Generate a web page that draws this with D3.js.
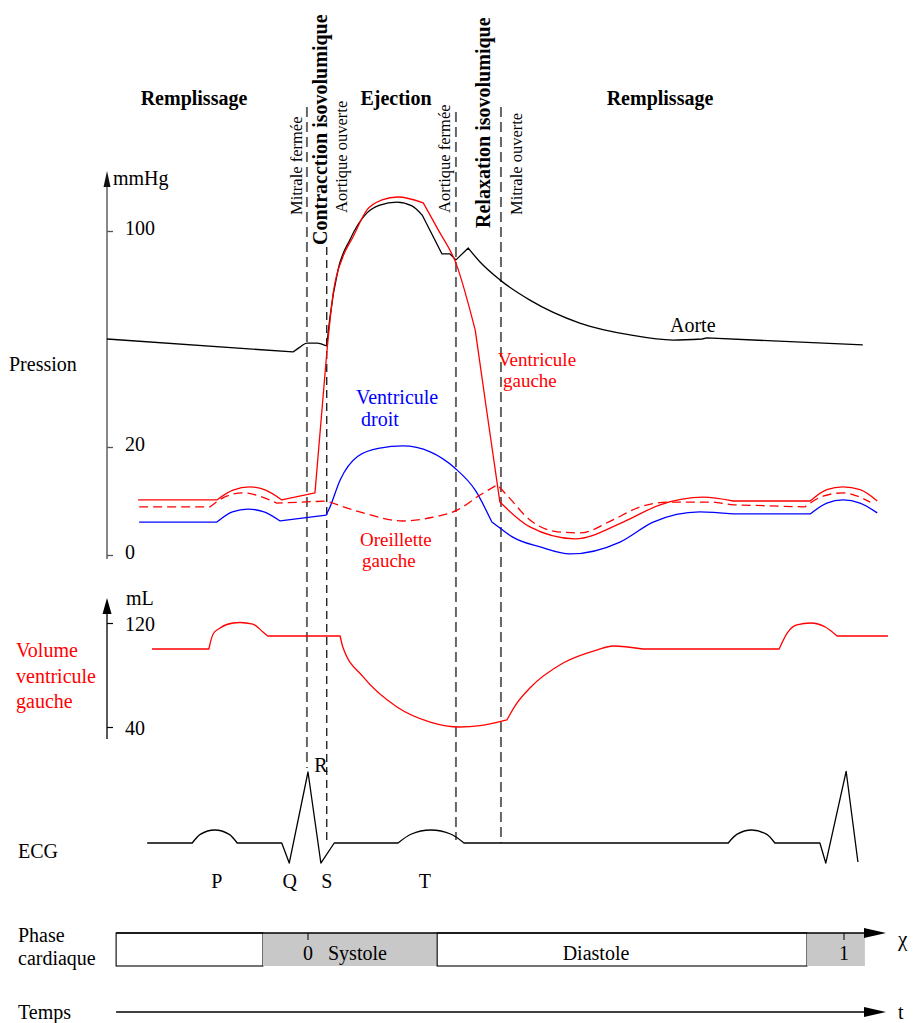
<!DOCTYPE html>
<html><head><meta charset="utf-8">
<script src="https://cdn.jsdelivr.net/npm/d3@7"></script>
<style>
body{margin:0;background:#fff}
text{font-family:"Liberation Serif","Times New Roman",serif;font-size:20px}
</style>
</head><body>
<svg id="c" width="918" height="1023"></svg>
<script>
// ---------------- DATA (χ = cardiac phase, 0 = R wave, 1 = next R wave) ----------------
const pressureTicks = [0, 20, 100];
const volumeTicks = [40, 120];
const phaseTicks = [0, 1];

// Aortic pressure (mmHg), list of segments
const aorta = [
  [[-0.375,60.0],[-0.028,55.2]],
  [[-0.028,55.2],[-0.015,57.0],[-0.002,58.5],[0.017,58.5],[0.035,57.4]],
  [[0.035,57.4],[0.041,68.1],[0.056,85.6],[0.078,96.7],[0.110,106.7],[0.134,109.6],[0.166,110.7],[0.194,109.3],[0.213,105.9]],
  [[0.213,105.9],[0.250,91.5]],
  [[0.250,91.5],[0.265,91.5]],
  [[0.265,91.5],[0.276,89.3]],
  [[0.276,89.3],[0.299,93.7]],
  [[0.299,93.7],[0.321,88.5],[0.358,81.9],[0.414,74.4],[0.507,65.9],[0.601,61.5],[0.681,59.6],[0.735,60.0]],
  [[0.735,60.0],[0.744,60.4]],
  [[0.744,60.4],[1.035,57.8]]
];
// Left ventricular pressure (mmHg)
const leftVentricle = [
  [[-0.317,10.2],[-0.170,10.2]],
  [[-0.170,10.2],[-0.140,12.0],[-0.108,12.6],[-0.079,12.0],[-0.049,10.2]],
  [[-0.049,10.2],[0.013,11.5]],
  [[0.013,11.5],[0.035,54.8]],
  [[0.035,54.8],[0.047,77.0],[0.065,90.4],[0.084,97.8],[0.110,107.8],[0.138,111.5],[0.168,112.6],[0.215,110.4]],
  [[0.215,110.4],[0.243,100.4],[0.276,88.1],[0.312,63.3]],
  [[0.312,63.3],[0.334,32.6],[0.358,9.8]],
  [[0.358,9.8],[0.414,5.2],[0.498,3.0],[0.588,6.1],[0.657,9.3],[0.737,10.7],[0.793,10.0]],
  [[0.793,10.0],[0.937,10.0]],
  [[0.937,10.0],[0.968,12.1],[0.998,12.6],[1.030,12.1],[1.062,10.0]]
];
// Left atrial pressure (mmHg)
const leftAtrium = [
  [[-0.315,8.9],[-0.183,8.9]],
  [[-0.183,8.9],[-0.152,10.9],[-0.121,11.5],[-0.090,10.9],[-0.058,9.6]],
  [[-0.058,9.6],[0.035,10.0]],
  [[0.035,10.0],[0.103,7.8],[0.177,6.3],[0.228,6.9],[0.278,8.3],[0.321,11.1],[0.353,13.0]],
  [[0.353,13.0],[0.371,11.1],[0.414,6.5],[0.465,4.3],[0.507,4.1],[0.569,6.5],[0.614,8.7],[0.675,9.8],[0.756,9.8]],
  [[0.756,9.8],[0.793,9.3]],
  [[0.793,9.3],[0.927,8.9]],
  [[0.927,8.9],[0.961,10.9],[0.998,11.5],[1.025,10.9],[1.049,9.8]]
];
// Right ventricular pressure (mmHg)
const rightVentricle = [
  [[-0.315,6.1],[-0.170,6.1]],
  [[-0.170,6.1],[-0.141,8.0],[-0.112,8.5],[-0.082,8.0],[-0.052,6.3]],
  [[-0.052,6.3],[0.034,7.4]],
  [[0.034,7.4],[0.041,8.9],[0.060,13.9],[0.093,18.3],[0.134,19.8],[0.177,20.4],[0.228,19.1],[0.274,16.1],[0.312,12.0],[0.343,6.1]],
  [[0.343,6.1],[0.358,5.0],[0.382,3.3],[0.433,1.5],[0.489,0.2],[0.582,2.4],[0.644,6.1],[0.731,8.0],[0.793,7.6]],
  [[0.793,7.6],[0.937,7.6]],
  [[0.937,7.6],[0.968,9.6],[0.998,10.2],[1.030,9.6],[1.062,7.8]]
];
// Left ventricular volume (mL)
const lvVolume = [
  [[-0.291,100],[-0.185,100]],
  [[-0.185,100],[-0.177,111.5],[-0.164,116.2],[-0.140,120],[-0.127,120.4],[-0.103,119.2],[-0.084,113.1],[-0.075,110]],
  [[-0.075,110],[0.060,110]],
  [[0.060,110],[0.065,101.5],[0.103,78.5],[0.166,55.4],[0.228,43.8],[0.283,40.0],[0.321,41.0],[0.371,45.4]],
  [[0.371,45.4],[0.390,58.5],[0.414,70],[0.476,89.2],[0.539,99.2],[0.569,102.3],[0.625,100]],
  [[0.625,100],[0.879,100]],
  [[0.879,100],[0.894,112.3],[0.912,118.5],[0.938,120],[0.965,116.9],[0.987,110]],
  [[0.987,110],[1.082,110]]
];
// ECG (relative amplitude, R = 1)
const ecg = [
  [[-0.300,0],[-0.216,0]],
  [[-0.216,0],[-0.201,0.121],[-0.174,0.183],[-0.147,0.121],[-0.132,0]],
  [[-0.132,0],[-0.049,0]],
  [[-0.049,0],[-0.035,-0.282]],
  [[-0.035,-0.282],[0,1]],
  [[0,1],[0.024,-0.282]],
  [[0.024,-0.282],[0.049,0]],
  [[0.049,0],[0.168,0]],
  [[0.168,0],[0.192,0.123],[0.229,0.183],[0.267,0.123],[0.291,0]],
  [[0.291,0],[0.784,0]],
  [[0.784,0],[0.800,0.121],[0.828,0.183],[0.856,0.121],[0.871,0]],
  [[0.871,0],[0.955,0]],
  [[0.955,0],[0.966,-0.282]],
  [[0.966,-0.282],[1.004,1.01]],
  [[1.004,1.01],[1.026,-0.268]]
];
const ecgWaves = [["P",-0.170],["Q",-0.034],["R",0.024],["S",0.035],["T",0.218]];

// Valve events
const valveEvents = [
  {label:"Mitrale fermée", t:-0.002},
  {label:"Aortique ouverte", t:0.035},
  {label:"Aortique fermée", t:0.276},
  {label:"Mitrale ouverte", t:0.360}
];
const phaseNames = ["Remplissage","Ejection","Remplissage"];
const isoNames = ["Contracction isovolumique","Relaxation isovolumique"];

// Cardiac phase bar
const phaseSegments = [
  {from:-0.358, to:-0.084, kind:"diastole", label:""},
  {from:-0.084, to:0.241, kind:"systole", label:"Systole"},
  {from:0.241, to:0.931, kind:"diastole", label:"Diastole"},
  {from:0.931, to:1.039, kind:"systole", label:""}
];

// ---------------- DRAWING ----------------
const svg = d3.select("#c");
const X = d3.scaleLinear().domain([0,1]).range([308,844]);
const YP = d3.scaleLinear().domain([0,20,100]).range([555,447,231]);
const YV = d3.scaleLinear().domain([40,120]).range([727,623]);
const YE = d3.scaleLinear().domain([0,1]).range([843,772]);

function pathOf(segs, y){
  const line = d3.line().x(d=>X(d[0])).y(d=>y(d[1])).curve(d3.curveMonotoneX);
  return segs.map((s,i)=>{ const p=line(s); return i===0?p:"L"+p.slice(1); }).join("");
}
function drawSeries(segs, y, color, dash){
  const p = svg.append("path").attr("d", pathOf(segs,y)).attr("fill","none")
    .attr("stroke",color).attr("stroke-width",1.3).attr("stroke-linejoin","round");
  if(dash) p.attr("stroke-dasharray",dash);
}
function txt(s, x, y, opts={}){
  const t = svg.append("text").attr("x",x).attr("y",y).text(s);
  if(opts.anchor) t.attr("text-anchor",opts.anchor);
  if(opts.fill) t.attr("fill",opts.fill);
  if(opts.bold) t.attr("font-weight","bold");
  if(opts.size) t.style("font-size",opts.size+"px");
  return t;
}
function vtxt(s, x, y, opts={}){
  const t = svg.append("text").attr("transform",`translate(${x},${y}) rotate(-90)`).text(s);
  if(opts.bold) t.attr("font-weight","bold");
  if(opts.size) t.style("font-size",opts.size+"px");
  return t;
}

// Pressure axis
svg.append("line").attr("x1",107).attr("x2",107).attr("y1",559).attr("y2",184)
  .attr("stroke","#555").attr("stroke-width",1.4);
svg.append("path").attr("d","M107,171L103.5,187L110.5,187Z").attr("fill","#111");
const ap = svg.append("g").attr("transform","translate(107,0)")
  .call(d3.axisRight(YP).tickValues(pressureTicks).tickSize(6).tickPadding(12).tickFormat(d3.format("d")));
ap.select(".domain").remove();
ap.selectAll(".tick line").attr("stroke","#555").attr("stroke-width",1.3);
ap.selectAll(".tick text").attr("dy","0.18em").attr("fill","#000")
  .style("font-family","'Liberation Serif',serif").style("font-size","20px");
txt("mmHg",113,185);
txt("Pression",9,371);

// Volume axis
svg.append("line").attr("x1",107).attr("x2",107).attr("y1",739).attr("y2",610)
  .attr("stroke","#000").attr("stroke-width",1.3);
svg.append("path").attr("d","M107,598L102.5,614L111.5,614Z").attr("fill","#000");
const av = svg.append("g").attr("transform","translate(107,0)")
  .call(d3.axisRight(YV).tickValues(volumeTicks).tickSize(6).tickPadding(12).tickFormat(d3.format("d")));
av.select(".domain").remove();
av.selectAll(".tick line").attr("stroke","#000").attr("stroke-width",1.2);
av.selectAll(".tick text").attr("dy","0.35em").attr("fill","#000")
  .style("font-family","'Liberation Serif',serif").style("font-size","20px");
txt("mL",126,605);
["Volume","ventricule","gauche"].forEach((s,i)=>txt(s,16,657+i*25.5,{fill:"#ff0000"}));

// Valve dashed lines
const vExt = [[107,768,"#666",2,"10,5"],[247,843,"#000",1.2,"8,5"],[112,840,"#666",2,"10,5"],[107,843,"#666",2,"10,5"]];
valveEvents.forEach((v,i)=>{
  const e = vExt[i];
  svg.append("line").attr("x1",X(v.t)).attr("x2",X(v.t)).attr("y1",e[0]).attr("y2",e[1])
    .attr("stroke",e[2]).attr("stroke-width",e[3]).attr("stroke-dasharray",e[4]);
});
const vLab = [[-5,215],[20,213],[-6,213],[21,215]];
valveEvents.forEach((v,i)=>vtxt(v.label, X(v.t)+vLab[i][0], vLab[i][1], {size:16.5}));

// Phase names
[194,396,660].forEach((cx,i)=>txt(phaseNames[i],cx,105,{anchor:"middle",bold:true}));
vtxt(isoNames[0],327,245,{bold:true});
vtxt(isoNames[1],490,228,{bold:true});

// Curves
drawSeries(rightVentricle, YP, "#0000ff");
drawSeries(leftAtrium, YP, "#ff0000", "9,5");
drawSeries(aorta, YP, "#000");
drawSeries(leftVentricle, YP, "#ff0000");
drawSeries(lvVolume, YV, "#ff0000");
drawSeries(ecg, YE, "#000");

// Curve labels
txt("Aorte",670,332);
txt("Ventricule",356,404,{fill:"#0000ff"});
txt("droit",361,426,{fill:"#0000ff"});
txt("Ventricule",498,366,{fill:"#ff0000",size:19});
txt("gauche",503,387,{fill:"#ff0000",size:19});
txt("Oreillette",360,546,{fill:"#ff0000",size:19});
txt("gauche",362,567,{fill:"#ff0000",size:19});
txt("ECG",18,858);
ecgWaves.forEach(([s,t])=>{
  txt(s, X(t), s==="R" ? 772 : 888, {anchor:"middle"});
});

// Phase bar
const barTop = 933, barBot = 966;
phaseSegments.forEach(s=>{
  const r = svg.append("rect").attr("x",X(s.from)).attr("y",barTop)
    .attr("width",X(s.to)-X(s.from)).attr("height",barBot-barTop);
  if(s.kind==="systole") r.attr("fill","#c8c8c8").attr("stroke","none");
  else r.attr("fill","#fff").attr("stroke","#000").attr("stroke-width",1.1);
});
svg.append("line").attr("x1",X(-0.358)).attr("x2",868).attr("y1",barTop).attr("y2",barTop)
  .attr("stroke","#000").attr("stroke-width",1.3);
svg.append("path").attr("d",`M886,${barTop}L864,${barTop-5}L864,${barTop+5}Z`).attr("fill","#000");
phaseTicks.forEach(t=>{
  svg.append("line").attr("x1",X(t)).attr("x2",X(t)).attr("y1",barTop).attr("y2",barTop+7)
    .attr("stroke","#000").attr("stroke-width",1);
  txt(String(t), X(t), 960, {anchor:"middle"});
});
txt(phaseSegments[1].label, 328, 960);
txt(phaseSegments[2].label, 596, 960, {anchor:"middle"});
txt("χ",898,946,{size:21});
txt("Phase",18,942);
txt("cardiaque",18,965);

// Time axis
svg.append("line").attr("x1",X(-0.358)).attr("x2",868).attr("y1",1012).attr("y2",1012)
  .attr("stroke","#000").attr("stroke-width",1.3);
svg.append("path").attr("d","M886,1012L864,1007L864,1017Z").attr("fill","#000");
txt("Temps",18,1019);
txt("t",898,1019);
</script>
</body></html>
